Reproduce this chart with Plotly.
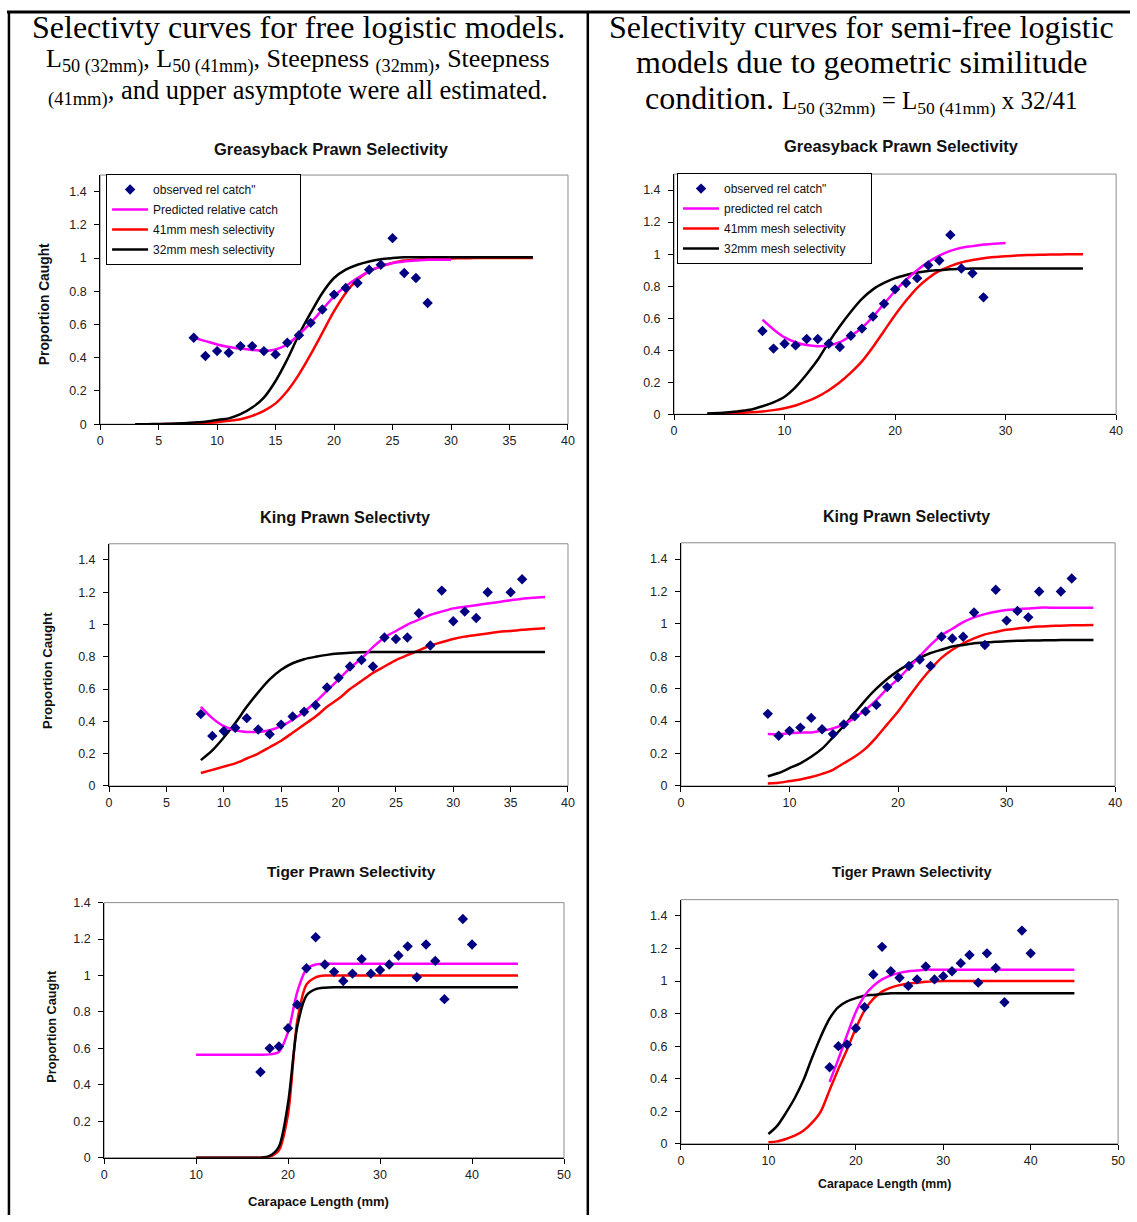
import plotly.graph_objects as go

W, H = 1137, 1222

# ---------------- DATA ----------------
# Greasyback prawn – observed relative catch (same in both panels)
gb_obs_x = [8, 9, 10, 11, 12, 13, 14, 15, 16, 17, 18, 19, 20, 21, 22, 23, 24, 25, 26, 27, 28]
gb_obs_y = [0.52, 0.41, 0.44, 0.43, 0.47, 0.47, 0.44, 0.42, 0.49, 0.535, 0.61, 0.69, 0.78, 0.82,
            0.85, 0.93, 0.96, 1.12, 0.91, 0.88, 0.73]

# Greasyback – free logistic model
gb_free_pred_x = list(range(8, 31))
gb_free_pred_y = [0.52, 0.50, 0.48, 0.465, 0.455, 0.447, 0.442, 0.45, 0.48, 0.54, 0.61, 0.69, 0.77,
                  0.83, 0.88, 0.92, 0.95, 0.97, 0.98, 0.985, 0.99, 0.99, 0.99]
gb_free_sel_x = list(range(3, 38))
gb_free_41_y = [0.0, 0.0, 0.0, 0.001, 0.002, 0.003, 0.007, 0.012, 0.02, 0.03, 0.05, 0.08, 0.125, 0.20,
                0.30, 0.42, 0.55, 0.68, 0.79, 0.87, 0.92, 0.95, 0.97, 0.985, 0.99, 0.995, 0.997,
                0.998, 0.999, 1.0, 1.0, 1.0, 1.0, 1.0, 1.0]
gb_free_32_y = [0.0, 0.0, 0.001, 0.002, 0.005, 0.01, 0.015, 0.025, 0.035, 0.06, 0.10, 0.16, 0.26,
                0.39, 0.54, 0.67, 0.79, 0.88, 0.93, 0.96, 0.98, 0.993, 1.0, 1.005, 1.005, 1.005,
                1.005, 1.005, 1.005, 1.005, 1.005, 1.005, 1.005, 1.005, 1.005]

# Greasyback – semi-free logistic model
gb_semi_pred_x = list(range(8, 31))
gb_semi_pred_y = [0.59, 0.53, 0.48, 0.45, 0.432, 0.425, 0.43, 0.45, 0.49, 0.54, 0.61, 0.69, 0.77,
                  0.84, 0.90, 0.95, 0.99, 1.02, 1.04, 1.05, 1.06, 1.065, 1.07]
gb_semi_sel_x = list(range(3, 38))
gb_semi_41_y = [0.002, 0.003, 0.005, 0.008, 0.012, 0.018, 0.026, 0.038, 0.055, 0.08, 0.11, 0.15,
                0.20, 0.26, 0.33, 0.42, 0.52, 0.62, 0.71, 0.79, 0.85, 0.895, 0.925, 0.948, 0.963,
                0.974, 0.982, 0.987, 0.991, 0.994, 0.996, 0.997, 0.998, 0.999, 1.0]
gb_semi_32_y = [0.005, 0.008, 0.012, 0.02, 0.03, 0.05, 0.075, 0.11, 0.17, 0.25, 0.34, 0.45, 0.55,
                0.64, 0.72, 0.78, 0.82, 0.85, 0.87, 0.885, 0.895, 0.90, 0.905, 0.908, 0.91, 0.91,
                0.91, 0.91, 0.91, 0.91, 0.91, 0.91, 0.91, 0.91, 0.91]

# King prawn – observed relative catch
kp_obs_x = [8, 9, 10, 11, 12, 13, 14, 15, 16, 17, 18, 19, 20, 21, 22, 23, 24, 25, 26, 27, 28, 29,
            30, 31, 32, 33, 35, 36]
kp_obs_y = [0.445, 0.31, 0.34, 0.36, 0.42, 0.35, 0.32, 0.38, 0.43, 0.46, 0.50, 0.61, 0.67, 0.74,
            0.78, 0.74, 0.92, 0.91, 0.92, 1.07, 0.87, 1.21, 1.02, 1.08, 1.04, 1.20, 1.20, 1.28]

kp_x = list(range(8, 39))
# King – free logistic model
kp_free_pred_y = [0.49, 0.42, 0.37, 0.345, 0.335, 0.335, 0.345, 0.37, 0.41, 0.46, 0.52, 0.59, 0.66,
                  0.73, 0.79, 0.86, 0.92, 0.96, 1.00, 1.03, 1.06, 1.08, 1.10, 1.11, 1.12, 1.13, 1.14,
                  1.15, 1.16, 1.165, 1.17]
kp_free_41_y = [0.08, 0.10, 0.12, 0.14, 0.17, 0.20, 0.24, 0.28, 0.33, 0.38, 0.43, 0.49, 0.54, 0.60,
                0.65, 0.70, 0.74, 0.78, 0.81, 0.84, 0.87, 0.89, 0.91, 0.925, 0.935, 0.945, 0.955,
                0.96, 0.967, 0.972, 0.977]
kp_free_32_y = [0.16, 0.22, 0.30, 0.39, 0.49, 0.58, 0.66, 0.72, 0.76, 0.785, 0.80, 0.812, 0.82,
                0.825, 0.828, 0.83, 0.83, 0.83, 0.83, 0.83, 0.83, 0.83, 0.83, 0.83, 0.83, 0.83,
                0.83, 0.83, 0.83, 0.83, 0.83]
# King – semi-free logistic model
kp_semi_pred_y = [0.32, 0.32, 0.325, 0.33, 0.33, 0.34, 0.355, 0.38, 0.42, 0.47, 0.53, 0.60, 0.66,
                  0.73, 0.80, 0.87, 0.93, 0.97, 1.01, 1.04, 1.06, 1.075, 1.085, 1.09, 1.095, 1.10,
                  1.10, 1.10, 1.10, 1.10, 1.10]
kp_semi_41_y = [0.015, 0.02, 0.03, 0.04, 0.055, 0.075, 0.10, 0.14, 0.18, 0.23, 0.30, 0.38, 0.46,
                0.55, 0.64, 0.72, 0.79, 0.84, 0.88, 0.91, 0.935, 0.95, 0.963, 0.972, 0.978, 0.983,
                0.986, 0.989, 0.991, 0.992, 0.993]
kp_semi_32_y = [0.06, 0.08, 0.11, 0.14, 0.18, 0.23, 0.30, 0.37, 0.45, 0.53, 0.60, 0.66, 0.71, 0.75,
                0.79, 0.82, 0.84, 0.86, 0.87, 0.88, 0.885, 0.89, 0.893, 0.895, 0.897, 0.898, 0.899,
                0.90, 0.90, 0.90, 0.90]

# Tiger prawn – observed relative catch
tp_obs_x = [17, 18, 19, 20, 21, 22, 23, 24, 25, 26, 27, 28, 29, 30, 31, 32, 33, 34, 35, 36, 37,
            39, 40]
tp_obs_y = [0.47, 0.60, 0.61, 0.71, 0.84, 1.04, 1.21, 1.06, 1.02, 0.97, 1.01, 1.09, 1.01, 1.03,
            1.06, 1.11, 1.16, 0.99, 1.17, 1.08, 0.87, 1.31, 1.17]

tp_x = list(range(10, 46))
# Tiger – free logistic model
tp_free_pred_y = [0.565, 0.565, 0.565, 0.565, 0.565, 0.565, 0.565, 0.565, 0.567, 0.58, 0.69, 0.91,
                  1.035, 1.06, 1.065, 1.065, 1.065, 1.065, 1.065, 1.065, 1.065, 1.065, 1.065, 1.065,
                  1.065, 1.065, 1.065, 1.065, 1.065, 1.065, 1.065, 1.065, 1.065, 1.065, 1.065, 1.065]
tp_free_41_y = [0.0, 0.0, 0.0, 0.0, 0.0, 0.0, 0.0, 0.0, 0.005, 0.04, 0.24, 0.75, 0.95, 0.99, 1.0,
                1.0, 1.0, 1.0, 1.0, 1.0, 1.0, 1.0, 1.0, 1.0, 1.0, 1.0, 1.0, 1.0, 1.0, 1.0, 1.0,
                1.0, 1.0, 1.0, 1.0, 1.0]
tp_free_32_y = [0.0, 0.0, 0.0, 0.0, 0.0, 0.0, 0.0, 0.0, 0.01, 0.06, 0.30, 0.72, 0.89, 0.925, 0.933,
                0.935, 0.935, 0.935, 0.935, 0.935, 0.935, 0.935, 0.935, 0.935, 0.935, 0.935, 0.935,
                0.935, 0.935, 0.935, 0.935, 0.935, 0.935, 0.935, 0.935, 0.935]
# Tiger – semi-free logistic model
tp_semi_pred_x = list(range(17, 46))
tp_semi_pred_y = [0.38, 0.52, 0.67, 0.81, 0.91, 0.97, 1.01, 1.035, 1.05, 1.06, 1.065, 1.07, 1.07,
                  1.07, 1.07, 1.07, 1.07, 1.07, 1.07, 1.07, 1.07, 1.07, 1.07, 1.07, 1.07, 1.07, 1.07,
                  1.07, 1.07]
tp_semi_41_y = [0.01, 0.015, 0.03, 0.05, 0.08, 0.13, 0.20, 0.33, 0.46, 0.58, 0.71, 0.82, 0.89, 0.935,
                0.96, 0.975, 0.985, 0.99, 0.995, 0.998, 1.0, 1.0, 1.0, 1.0, 1.0, 1.0, 1.0, 1.0, 1.0,
                1.0, 1.0, 1.0, 1.0, 1.0, 1.0, 1.0]
tp_semi_32_y = [0.06, 0.11, 0.19, 0.28, 0.39, 0.53, 0.66, 0.77, 0.84, 0.875, 0.895, 0.91, 0.915,
                0.92, 0.925, 0.925, 0.925, 0.925, 0.925, 0.925, 0.925, 0.925, 0.925, 0.925, 0.925,
                0.925, 0.925, 0.925, 0.925, 0.925, 0.925, 0.925, 0.925, 0.925, 0.925, 0.925]

y_ticks = [0, 0.2, 0.4, 0.6, 0.8, 1, 1.2, 1.4]
y_ticktext = ["0", "0.2", "0.4", "0.6", "0.8", "1", "1.2", "1.4"]

panel_titles = ["Greasyback Prawn Selectivity", "Greasyback Prawn Selectivity",
                "King Prawn Selectivty", "King Prawn Selectivty",
                "Tiger Prawn Selectivity", "Tiger Prawn Selectivity"]
legend_labels_left = ['observed rel catch"', "Predicted relative catch",
                      "41mm mesh selectivity", "32mm mesh selectivity"]
legend_labels_right = ['observed rel catch"', "predicted rel catch",
                       "41mm mesh selectivity", "32mm mesh selectivity"]

# ---------------- LAYOUT HELPERS ----------------
def px(v):
    return v / W


def py(v):
    return 1 - v / H


MAG, RED, BLK, NAVY = "#FF00FF", "#FF0000", "#000000", "#000080"
SANS = "Liberation Sans, Arial, sans-serif"
SERIF = "Liberation Serif, Times New Roman, serif"
NBSP = "\u00a0"

# (x0px, x1px, top_px, bottom_px, xmax, xdtick, ymax)
panels = [
    (98, 570, 170, 422, 40, 5, 1.5),
    (677, 1123, 169, 412, 40, 10, 1.5),
    (107, 570, 543, 788, 40, 5, 1.5),
    (684, 1122, 542, 788, 40, 10, 1.5),
    (102, 566, 906, 1164, 50, 10, 1.4),
    (684, 1125, 903, 1150, 50, 10, 1.5),
]

fig = go.Figure()

series = [
    (gb_obs_x, gb_obs_y, gb_free_pred_x, gb_free_pred_y, gb_free_sel_x, gb_free_41_y, gb_free_32_y),
    (gb_obs_x, gb_obs_y, gb_semi_pred_x, gb_semi_pred_y, gb_semi_sel_x, gb_semi_41_y, gb_semi_32_y),
    (kp_obs_x, kp_obs_y, kp_x, kp_free_pred_y, kp_x, kp_free_41_y, kp_free_32_y),
    (kp_obs_x, kp_obs_y, kp_x, kp_semi_pred_y, kp_x, kp_semi_41_y, kp_semi_32_y),
    (tp_obs_x, tp_obs_y, tp_x, tp_free_pred_y, tp_x, tp_free_41_y, tp_free_32_y),
    (tp_obs_x, tp_obs_y, tp_semi_pred_x, tp_semi_pred_y, tp_x, tp_semi_41_y, tp_semi_32_y),
]

# trailing padding so the legend boxes are as wide as in the original
pad = {0: (0, 5, 0, 0), 1: (0, 0, 6, 0)}

for i, (ox, oy, prx, pry, sx, s41, s32) in enumerate(series):
    xa = "x" if i == 0 else f"x{i + 1}"
    ya = "y" if i == 0 else f"y{i + 1}"
    show = i in (0, 1)
    leg = "legend" if i == 0 else "legend2"
    labels = legend_labels_left if i == 0 else legend_labels_right
    pads = pad.get(i, (0, 0, 0, 0))
    lab = [labels[k] + NBSP * pads[k] for k in range(4)]
    fig.add_trace(go.Scatter(x=sx, y=s41, mode="lines", name=lab[2], xaxis=xa, yaxis=ya,
                             line=dict(color=RED, width=2.5, shape="spline", smoothing=0.8),
                             showlegend=show, legend=leg, legendrank=3, legendgroup=f"p{i}c"))
    fig.add_trace(go.Scatter(x=sx, y=s32, mode="lines", name=lab[3], xaxis=xa, yaxis=ya,
                             line=dict(color=BLK, width=2.5, shape="spline", smoothing=0.8),
                             showlegend=show, legend=leg, legendrank=4, legendgroup=f"p{i}d"))
    fig.add_trace(go.Scatter(x=prx, y=pry, mode="lines", name=lab[1], xaxis=xa, yaxis=ya,
                             line=dict(color=MAG, width=2.5, shape="spline", smoothing=0.8),
                             showlegend=show, legend=leg, legendrank=2, legendgroup=f"p{i}b"))
    fig.add_trace(go.Scatter(x=ox, y=oy, mode="markers", name=lab[0], xaxis=xa, yaxis=ya,
                             marker=dict(symbol="diamond", color=NAVY, size=8),
                             showlegend=show, legend=leg, legendrank=1, legendgroup=f"p{i}a"))

layout = dict(
    width=W, height=H, autosize=False,
    margin=dict(l=0, r=0, t=0, b=0),
    paper_bgcolor="white", plot_bgcolor="white",
    font=dict(family=SANS, color="#222"),
)

shapes = []
annotations = []

for i, (x0, x1, top, bot, xmax, xdt, ymax) in enumerate(panels):
    sfx = "" if i == 0 else str(i + 1)
    layout[f"xaxis{sfx}"] = dict(
        domain=[px(x0), px(x1)], anchor=f"y{sfx}", range=[0, xmax], dtick=xdt, tick0=0,
        showgrid=False, zeroline=False, showline=True, linecolor="#000", linewidth=1,
        ticks="outside", ticklen=5, tickcolor="#000",
        tickfont=dict(size=12.5, family=SANS, color="#222"), fixedrange=True,
    )
    layout[f"yaxis{sfx}"] = dict(
        domain=[py(bot), py(top)], anchor=f"x{sfx}", range=[0, ymax],
        tickvals=y_ticks, ticktext=y_ticktext,
        showgrid=False, zeroline=False, showline=True, linecolor="#000", linewidth=1,
        ticks="outside", ticklen=5, tickcolor="#000", ticklabelstandoff=5,
        tickfont=dict(size=12.5, family=SANS, color="#222"), fixedrange=True,
    )
    shapes.append(dict(type="rect", xref=f"x{sfx} domain", yref=f"y{sfx} domain",
                       x0=0, x1=1, y0=0, y1=1, line=dict(color="#8c8c8c", width=1),
                       layer="below"))

# panel titles (x, y, font size)
title_pos = [(331, 144, 16.5), (906, 141, 16.5), (345, 516, 16.3), (912, 515, 16),
             (352, 875, 15.4), (917, 875, 14.6)]
for t, (tx, ty, fs) in zip(panel_titles, title_pos):
    annotations.append(dict(text=f"<b>{t}</b>", x=px(tx), y=py(ty), xref="paper", yref="paper",
                            showarrow=False, xanchor="center", yanchor="middle",
                            font=dict(size=fs, family=SANS, color="#111")))

# y-axis titles
for (tx, ty, fs) in [(42, 301, 13.8), (45, 671, 13.2), (50, 1031, 12.7)]:
    annotations.append(dict(text="<b>Proportion Caught</b>", x=px(tx), y=py(ty), xref="paper",
                            yref="paper", showarrow=False, textangle=-90, xanchor="center",
                            yanchor="middle", font=dict(size=fs, family=SANS, color="#111")))
# x-axis titles
for (tx, ty, fs) in [(318, 1208, 13), (889, 1191, 12.3)]:
    annotations.append(dict(text="<b>Carapace Length (mm)</b>", x=px(tx), y=py(ty), xref="paper",
                            yref="paper", showarrow=False, xanchor="center", yanchor="middle",
                            font=dict(size=fs, family=SANS, color="#111")))

# table header texts
hdr = [
    ("Selectivty curves for free logistic models.", 298, 20, 32),
    ("L<sub>50 (32mm)</sub>, L<sub>50 (41mm)</sub>, Steepness <sub>(32mm)</sub>, Steepness", 298, 54, 26),
    ("<sub>(41mm)</sub>, and upper asymptote were all estimated.", 298, 86, 26.5),
    ("Selectivity curves for semi-free logistic", 866, 20, 32),
    ("models due to geometric similitude", 866, 56, 32),
    ("condition. <span style='font-size:25px'>L<sub>50 (32mm)</sub> = L<sub>50 (41mm)</sub> x 32/41</span>",
     866, 93, 32),
]
for t, tx, ty, fs in hdr:
    annotations.append(dict(text=t, x=px(tx), y=py(ty), xref="paper", yref="paper",
                            showarrow=False, xanchor="center", yanchor="middle",
                            font=dict(size=fs, family=SERIF, color="#000")))

# table borders
shapes.append(dict(type="line", xref="paper", yref="paper", x0=px(4), x1=1, y0=py(5), y1=py(5),
                   line=dict(color="#000", width=3)))
shapes.append(dict(type="line", xref="paper", yref="paper", x0=px(6), x1=px(6), y0=py(4), y1=0,
                   line=dict(color="#000", width=2.5)))
shapes.append(dict(type="line", xref="paper", yref="paper", x0=px(590), x1=px(590), y0=py(4), y1=0,
                   line=dict(color="#000", width=2.5)))

layout["shapes"] = shapes
layout["annotations"] = annotations

legend_common = dict(bgcolor="white", bordercolor="#000", borderwidth=1,
                     font=dict(size=12, family=SANS, color="#111"),
                     xanchor="left", yanchor="top", tracegroupgap=1, itemwidth=36,
                     traceorder="grouped")
layout["legend"] = dict(x=px(104), y=py(169), **legend_common)
layout["legend2"] = dict(x=px(680), y=py(168), **legend_common)

fig.update_layout(**layout)
fig.write_html("out.html", config={"displayModeBar": False},
               post_script="document.body.style.margin='0';document.body.style.overflow='hidden';")
